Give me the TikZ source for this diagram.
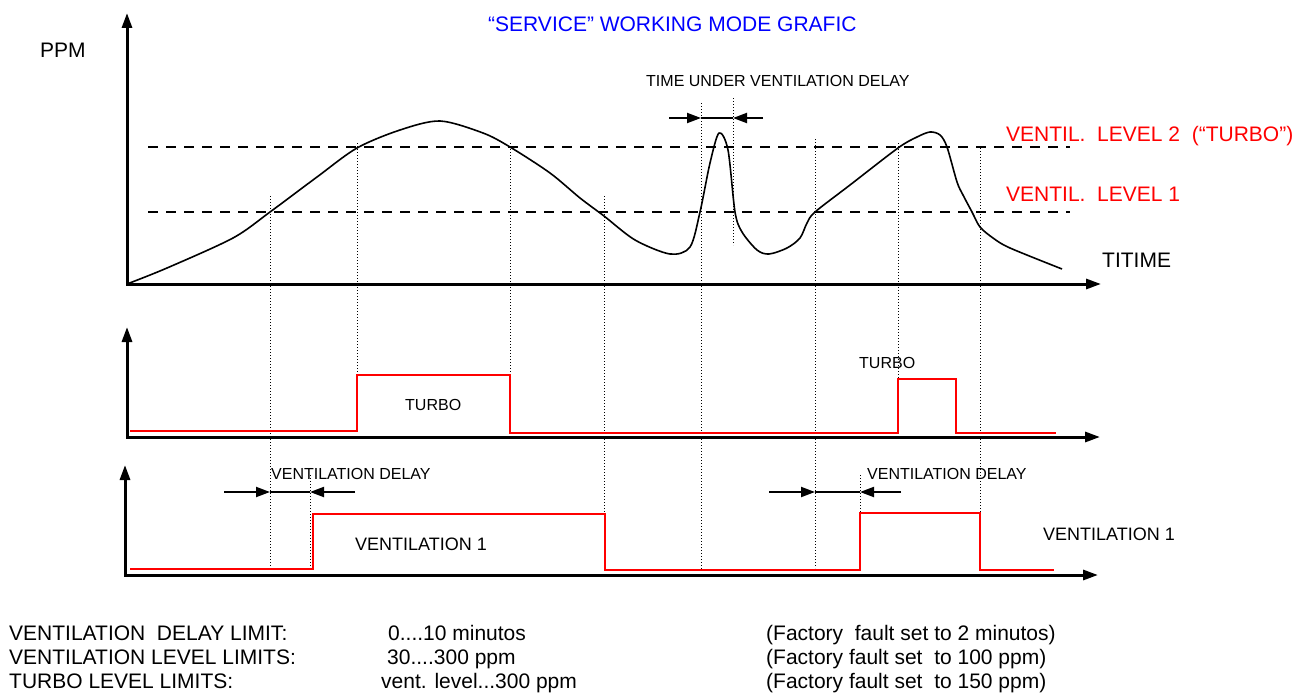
\documentclass[tikz,border=0pt]{standalone}
\usepackage{fontspec}
\setmainfont{Liberation Sans}
\usetikzlibrary{arrows.meta}

\tikzset{
  axis/.style={line width=3pt,line join=miter,{Triangle[length=15pt,width=10pt]}-{Triangle[length=15pt,width=10pt]}},
  level/.style={line width=2.5pt,dash pattern=on 10pt off 8pt},
  guide/.style={line width=1pt,dash pattern=on 1pt off 2pt},
  signal/.style={line width=2.5pt,red},
  delay/.style={line width=2pt,-{Triangle[length=14pt,width=10pt]}},
  ppmcurve/.style={line width=1.6pt,line join=round},
  big/.style={inner sep=0pt,anchor=base west,font=\fontsize{21}{25}\selectfont},
  mid/.style={inner sep=0pt,anchor=base west,font=\fontsize{18}{22}\selectfont},
  small/.style={inner sep=0pt,anchor=base west,font=\fontsize{16}{19}\selectfont},
}

\begin{document}
\begin{tikzpicture}[x=1pt,y=-1pt]
    \useasboundingbox (0,0) rectangle (1311,693);

    \node[big,blue] (title) at (488,32) {“SERVICE” WORKING MODE GRAFIC};
    \node[big] (ppm) at (40,57) {PPM};
    \node[small] (under) at (646,86) {TIME UNDER VENTILATION DELAY};
    \node[big,red] (lv2) at (1006,141) {VENTIL.\ \ LEVEL 2\ \ (“TURBO”)};
    \node[big,red] (lv1) at (1006,201) {VENTIL.\ \ LEVEL 1};
    \node[big] (titime) at (1102,267) {TITIME};

    \draw[guide] (270,196) -- (270,568);
    \draw[guide] (357,143) -- (357,433);
    \draw[guide] (510,143) -- (510,433);
    \draw[guide] (604,196) -- (604,570);
    \draw[guide] (701,103) -- (701,570);
    \draw[guide] (733,98) -- (733,245);
    \draw[guide] (815,139) -- (815,568);
    \draw[guide] (898,143) -- (898,433);
    \draw[guide] (980,148) -- (980,570);
    \draw[guide] (310,475) -- (310,568);
    \draw[guide] (860,475) -- (860,568);

    \draw[level] (148,147) -- (1070,147);
    \draw[level] (148,212) -- (1070,212);

    \draw[ppmcurve] plot[smooth,tension=0.5] coordinates {
        (127,284) (167,268) (233,238) (270,212) (317,177) (357,148) (400,130)
        (440,121) (483,133) (510,147) (550,173) (580,198) (604,216) (635,240)
        (670,254) (690,247) (700,212) (710,163) (719,133) (728,150)
        (735,212) (742,232) (757,250) (769,254) (787,248) (800,238) (807,223)
        (815,212) (850,185) (898,148) (917,137) (930,132) (940,135) (947,147)
        (957,182) (963,195) (972,212) (980,227) (993,238) (1010,248) (1062,269)};

    \coordinate (ua) at (669,118); \coordinate (ub) at (701,118);
    \coordinate (uc) at (733,118); \coordinate (ud) at (763,118);
    \draw[delay] (ua) -- (ub);
    \draw[line width=2pt] (ub) -- (uc);
    \draw[delay] (ud) -- (uc);

    \draw[axis] (127,13) -- (127,284) -- (1101,284);

    \draw[signal] (130,431) -- (357,431) -- (357,375) -- (510,375) -- (510,433)
        -- (898,433) -- (898,379) -- (956,379) -- (956,433) -- (1056,433);
    \draw[axis] (127,327) -- (127,437) -- (1100,437);
    \node[small] (turbo1) at (405,410) {TURBO};
    \node[small] (turbo2) at (859,368) {TURBO};

    \node[small] (vdel1) at (271,479) {VENTILATION DELAY};
    \node[small] (vdel2) at (867,479) {VENTILATION DELAY};
    \coordinate (da) at (224,492); \coordinate (db) at (270,492);
    \coordinate (dc) at (310,492); \coordinate (dd) at (355,492);
    \draw[delay] (da) -- (db);
    \draw[line width=2pt] (db) -- (dc);
    \draw[delay] (dd) -- (dc);
    \coordinate (ea) at (769,492); \coordinate (eb) at (815,492);
    \coordinate (ec) at (860,492); \coordinate (ed) at (901,492);
    \draw[delay] (ea) -- (eb);
    \draw[line width=2pt] (eb) -- (ec);
    \draw[delay] (ed) -- (ec);

    \draw[signal] (130,569) -- (313,569) -- (313,514) -- (605,514) -- (605,570)
        -- (860,570) -- (860,513) -- (980,513) -- (980,570) -- (1054,570);
    \draw[axis] (125,465) -- (125,575) -- (1098,575);
    \node[mid] (vent1) at (355,550) {VENTILATION 1};
    \node[mid] (vent2) at (1043,540) {VENTILATION 1};

    \node[big] (lim1) at (9,640) {VENTILATION\ \ DELAY LIMIT:};
    \node[big] (lim2) at (9,664) {VENTILATION LEVEL LIMITS:};
    \node[big] (lim3) at (9,688) {TURBO LEVEL LIMITS:};
    \node[big] (rng1) at (388,640) {0....10 minutos};
    \node[big] (rng2) at (387,664) {30....300 ppm};
    \node[big] (rng3) at (381,688) {vent. level...300 ppm};
    \node[big] (fab1) at (766,640) {(Factory\ \ fault set to 2 minutos)};
    \node[big] (fab2) at (766,664) {(Factory fault set\ \ to 100 ppm)};
    \node[big] (fab3) at (766,688) {(Factory fault set\ \ to 150 ppm)};
\end{tikzpicture}
\end{document}
